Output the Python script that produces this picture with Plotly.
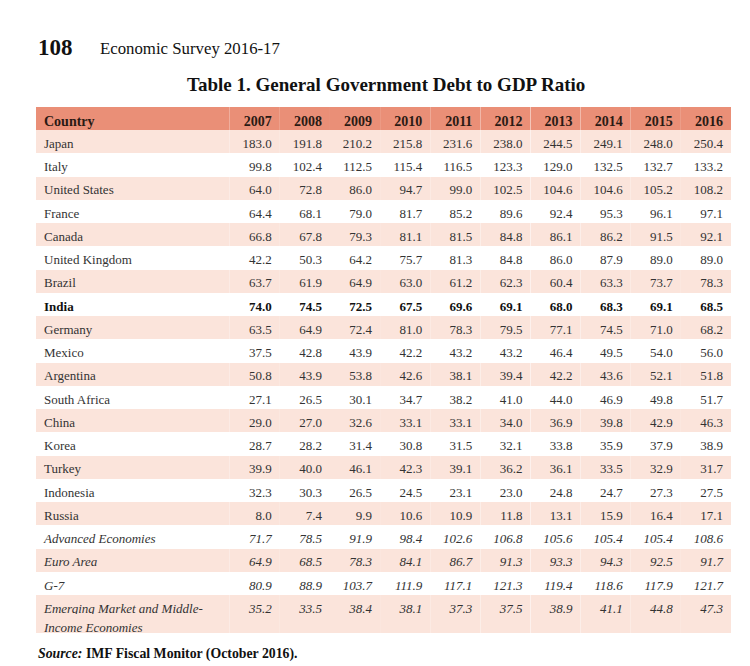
"""General Government Debt to GDP Ratio table (Economic Survey 2016-17)."""

import plotly.graph_objects as go

W, H = 750, 666

# ---------------------------------------------------------------------------
# Data
# ---------------------------------------------------------------------------
years = ["2007", "2008", "2009", "2010", "2011", "2012", "2013", "2014", "2015", "2016"]

countries = [
    "Japan", "Italy", "United States", "France", "Canada", "United Kingdom",
    "Brazil", "India", "Germany", "Mexico", "Argentina", "South Africa",
    "China", "Korea", "Turkey", "Indonesia", "Russia",
    "Advanced Economies", "Euro Area", "G-7",
    "Emerging Market and Middle-Income Economies",
]

japan = [183.0, 191.8, 210.2, 215.8, 231.6, 238.0, 244.5, 249.1, 248.0, 250.4]
italy = [99.8, 102.4, 112.5, 115.4, 116.5, 123.3, 129.0, 132.5, 132.7, 133.2]
united_states = [64.0, 72.8, 86.0, 94.7, 99.0, 102.5, 104.6, 104.6, 105.2, 108.2]
france = [64.4, 68.1, 79.0, 81.7, 85.2, 89.6, 92.4, 95.3, 96.1, 97.1]
canada = [66.8, 67.8, 79.3, 81.1, 81.5, 84.8, 86.1, 86.2, 91.5, 92.1]
united_kingdom = [42.2, 50.3, 64.2, 75.7, 81.3, 84.8, 86.0, 87.9, 89.0, 89.0]
brazil = [63.7, 61.9, 64.9, 63.0, 61.2, 62.3, 60.4, 63.3, 73.7, 78.3]
india = [74.0, 74.5, 72.5, 67.5, 69.6, 69.1, 68.0, 68.3, 69.1, 68.5]
germany = [63.5, 64.9, 72.4, 81.0, 78.3, 79.5, 77.1, 74.5, 71.0, 68.2]
mexico = [37.5, 42.8, 43.9, 42.2, 43.2, 43.2, 46.4, 49.5, 54.0, 56.0]
argentina = [50.8, 43.9, 53.8, 42.6, 38.1, 39.4, 42.2, 43.6, 52.1, 51.8]
south_africa = [27.1, 26.5, 30.1, 34.7, 38.2, 41.0, 44.0, 46.9, 49.8, 51.7]
china = [29.0, 27.0, 32.6, 33.1, 33.1, 34.0, 36.9, 39.8, 42.9, 46.3]
korea = [28.7, 28.2, 31.4, 30.8, 31.5, 32.1, 33.8, 35.9, 37.9, 38.9]
turkey = [39.9, 40.0, 46.1, 42.3, 39.1, 36.2, 36.1, 33.5, 32.9, 31.7]
indonesia = [32.3, 30.3, 26.5, 24.5, 23.1, 23.0, 24.8, 24.7, 27.3, 27.5]
russia = [8.0, 7.4, 9.9, 10.6, 10.9, 11.8, 13.1, 15.9, 16.4, 17.1]
advanced = [71.7, 78.5, 91.9, 98.4, 102.6, 106.8, 105.6, 105.4, 105.4, 108.6]
euro_area = [64.9, 68.5, 78.3, 84.1, 86.7, 91.3, 93.3, 94.3, 92.5, 91.7]
g7 = [80.9, 88.9, 103.7, 111.9, 117.1, 121.3, 119.4, 118.6, 117.9, 121.7]
emerging = [35.2, 33.5, 38.4, 38.1, 37.3, 37.5, 38.9, 41.1, 44.8, 47.3]

rows = [
    japan, italy, united_states, france, canada, united_kingdom, brazil, india,
    germany, mexico, argentina, south_africa, china, korea, turkey, indonesia,
    russia, advanced, euro_area, g7, emerging,
]

# ---------------------------------------------------------------------------
# Styling
# ---------------------------------------------------------------------------
HEAD_FILL = "#EA8F77"
BAND_FILL = "#FBE4DB"
TEXT = "#333333"
SERIF = "Liberation Serif"

TOP = 107          # px, top of header
HEAD_H = 23
ROW_H = 23.25
SUB_H = 19         # the wrapped last row is drawn as two short rows
X0, X1 = 36 / W, 731 / W
COLW = [194] + [50.2] * len(years)
ALIGN = ["left"] + ["right"] * len(years)

# table.cells.font only takes per-column styles, so rows with a different
# weight/style go into their own stacked table block
# (first row, last row + 1, font weight, font style)
blocks = [
    (0, 7, "normal", "normal"),
    (7, 8, "bold", "normal"),
    (8, 17, "normal", "normal"),
    (17, 20, "normal", "italic"),
    (20, 21, "normal", "italic"),
]

fig = go.Figure()
y_px = TOP
for k, (a, b, weight, style) in enumerate(blocks):
    names = countries[a:b]
    vals = [[f"{r[j]:.1f}" for r in rows[a:b]] for j in range(len(years))]
    fills = [BAND_FILL if i % 2 == 0 else "white" for i in range(a, b)]
    cell_h = ROW_H
    if a == 20:
        # "Emerging Market and Middle-" / "Income Economies" on two lines
        first, second = names[0].split("-", 1)
        names = [first + "-", second]
        vals = [[v[0], ""] for v in vals]
        fills = fills * 2
        cell_h = SUB_H
    head_h = HEAD_H if k == 0 else 0
    block_h = head_h + cell_h * len(names)
    y_top, y_bot = y_px, y_px + block_h + 1.5
    y_px += block_h

    fig.add_trace(go.Table(
        domain=dict(x=[X0, X1], y=[1 - y_bot / H, 1 - y_top / H]),
        columnwidth=COLW,
        header=dict(
            values=(["Country"] + years) if k == 0 else [""] * (len(years) + 1),
            align=ALIGN,
            fill=dict(color=HEAD_FILL),
            line=dict(width=0, color=HEAD_FILL),
            font=dict(family=SERIF, size=14, color="#2a1a14", weight="bold"),
            height=head_h,
        ),
        cells=dict(
            values=[names] + vals,
            align=ALIGN,
            fill=dict(color=[fills] * (len(years) + 1)),
            line=dict(width=0, color="white"),
            font=dict(family=SERIF, size=13,
                      color="#111111" if weight == "bold" else TEXT,
                      weight=weight, style=style),
            height=cell_h,
        ),
    ))

# -- Page header, title and source ------------------------------------------
fig.add_annotation(
    x=36 / W, y=1 - 47 / H, xref="paper", yref="paper",
    xanchor="left", yanchor="middle", showarrow=False,
    text="<b>108</b>", font=dict(family=SERIF, size=23, color="#111"),
)
fig.add_annotation(
    x=98 / W, y=1 - 49 / H, xref="paper", yref="paper",
    xanchor="left", yanchor="middle", showarrow=False,
    text="Economic Survey 2016-17",
    font=dict(family=SERIF, size=16.8, color="#111"),
)
fig.add_annotation(
    x=386 / W, y=1 - 84 / H, xref="paper", yref="paper",
    xanchor="center", yanchor="middle", showarrow=False,
    text="<b>Table 1. General Government Debt to GDP Ratio</b>",
    font=dict(family=SERIF, size=19, color="#111"),
)
fig.add_annotation(
    x=36 / W, y=1 - 654 / H, xref="paper", yref="paper",
    xanchor="left", yanchor="middle", showarrow=False,
    text="<b><i>Source:</i> IMF Fiscal Monitor (October 2016).</b>",
    font=dict(family=SERIF, size=13.8, color="#111"),
)

fig.update_layout(
    width=W, height=H,
    margin=dict(l=0, r=0, t=0, b=0),
    paper_bgcolor="white",
)

# page body has a default 8px margin; drop it so the figure sits at (0, 0)
fig.write_html(
    "out.html",
    config={"displayModeBar": False},
    post_script="document.body.style.margin='0';",
)
